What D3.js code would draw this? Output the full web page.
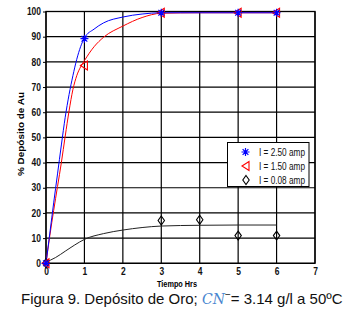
<!DOCTYPE html>
<html><head><meta charset="utf-8">
<script src="https://cdn.jsdelivr.net/npm/d3@7"></script>
<style>body{margin:0;background:#fff}svg{display:block}</style>
</head><body>
<svg id="c" width="357" height="326"></svg>
<script>
// ---- data ----
const xTicks = [0,1,2,3,4,5,6,7];
const yTicks = [0,10,20,30,40,50,60,70,80,90,100];
const seriesNames = ["I = 2.50 amp","I = 1.50 amp","I = 0.08 amp"];
const markerTimes = [0,1,3,5,6];
const blueMarks = [0,89.2,99.5,99.5,99.5];
const redMarks = [0,78.6,99.5,99.5,99.5];
const blackTimes = [0,3,4,5,6];
const blackMarks = [0,17,17.3,11,11];
const curveTimes = [0,0.1,0.2,0.3,0.4,0.5,0.6,0.7,0.8,0.9,1,1.25,1.5,2,2.5,3,4,5,6];
const blueCurve = [0,12,24,35.5,47,58,67,74.5,81,86,89.5,93,95.5,97.8,99,99.5,99.5,99.5,99.5];
const redCurve = [0,11,21,30.5,40,50.5,60.5,69,74.5,78,80.5,86,89.8,94.2,97.6,99.3,99.5,99.5,99.5];
const blackCurveTimes = [0,0.25,0.5,0.75,1,1.5,2,2.5,3,4,5,6];
const blackCurve = [0.5,2.3,4.8,7.3,9.5,11.8,13.2,14.2,14.8,15.1,15.2,15.2];
const xLabel = "Tiempo Hrs";
const yLabel = "% Depósito de Au";

// ---- layout ----
const svg = d3.select("#c");
const x = d3.scaleLinear().domain([0,7]).range([46,315]);
const y = d3.scaleLinear().domain([0,100]).range([263.3,11.5]);
const narrow = "'Liberation Sans Narrow','Arial Narrow','Liberation Sans',Arial,sans-serif";

// grid
const g = svg.append("g");
g.selectAll("line.v").data(xTicks).join("line")
  .attr("x1",d=>x(d)).attr("x2",d=>x(d)).attr("y1",y(0)).attr("y2",y(100))
  .attr("stroke","#000").attr("stroke-width",1.2);
g.selectAll("line.h").data(yTicks).join("line")
  .attr("x1",x(0)).attr("x2",x(7)).attr("y1",d=>y(d)).attr("y2",d=>y(d))
  .attr("stroke","#000").attr("stroke-width",1.2);
g.append("rect").attr("x",x(0)).attr("y",y(100)).attr("width",x(7)-x(0)).attr("height",y(0)-y(100))
  .attr("fill","none").attr("stroke","#000").attr("stroke-width",1.3);

// axes labels via d3 axes
const xa = svg.append("g").attr("transform",`translate(0,${y(0)})`)
  .call(d3.axisBottom(x).tickValues(xTicks).tickSize(0).tickPadding(5).tickFormat(d3.format("d")));
const ya = svg.append("g").attr("transform",`translate(${x(0)},0)`)
  .call(d3.axisLeft(y).tickValues(yTicks).tickSize(3).tickPadding(2).tickFormat(d3.format("d")));
[xa,ya].forEach(a=>{
  a.select(".domain").remove();
  a.selectAll("line").attr("stroke","#000");
  a.selectAll("text").attr("font-family",narrow).attr("font-size",10).attr("font-weight","bold").attr("fill","#111")
    .attr("textLength",function(){return this.textContent.length*4.7;}).attr("lengthAdjust","spacingAndGlyphs");
});
xa.selectAll("text").attr("dy","0.71em");

svg.append("text").attr("x",177).attr("y",286.5).attr("text-anchor","middle")
  .attr("font-family",narrow).attr("font-size",9).attr("font-weight","bold")
  .attr("textLength",40).attr("lengthAdjust","spacingAndGlyphs").text(xLabel);
svg.append("text").attr("transform","translate(24,134) rotate(-90)").attr("text-anchor","middle")
  .attr("font-family",narrow).attr("font-size",9.5).attr("font-weight","bold")
  .attr("textLength",84).attr("lengthAdjust","spacingAndGlyphs").text(yLabel);

// curves
const line = d3.line().x(d=>x(d[0])).y(d=>y(d[1])).curve(d3.curveMonotoneX);
const plot = svg.append("g");
plot.append("path").attr("d",line(blackCurveTimes.map((t,i)=>[t,blackCurve[i]])))
  .attr("fill","none").attr("stroke","#222").attr("stroke-width",1);
plot.append("path").attr("d",line(curveTimes.map((t,i)=>[t,redCurve[i]])))
  .attr("fill","none").attr("stroke","#ff0000").attr("stroke-width",1);
plot.append("path").attr("d",line(curveTimes.map((t,i)=>[t,blueCurve[i]])))
  .attr("fill","none").attr("stroke","#0000ff").attr("stroke-width",1);

// marker shapes
function star(sel,cx,cy){
  const r=4;
  const p=`M${cx-r},${cy}L${cx+r},${cy}M${cx},${cy-r}L${cx},${cy+r}M${cx-r*0.72},${cy-r*0.72}L${cx+r*0.72},${cy+r*0.72}M${cx-r*0.72},${cy+r*0.72}L${cx+r*0.72},${cy-r*0.72}`;
  sel.append("path").attr("d",p).attr("stroke","#0000ff").attr("stroke-width",1.2).attr("fill","none");
}
function tri(sel,cx,cy){
  sel.append("path").attr("d",`M${cx-4},${cy}L${cx+3},${cy-4.5}L${cx+3},${cy+4.5}Z`)
    .attr("stroke","#ff0000").attr("stroke-width",1.1).attr("fill","none");
}
function dia(sel,cx,cy){
  sel.append("path").attr("d",`M${cx},${cy-4.5}L${cx+3.2},${cy}L${cx},${cy+4.5}L${cx-3.2},${cy}Z`)
    .attr("stroke","#000").attr("stroke-width",1.1).attr("fill","none");
}
blackTimes.forEach((t,i)=>dia(plot,x(t),y(blackMarks[i])));
markerTimes.forEach((t,i)=>tri(plot,x(t),y(redMarks[i])));
markerTimes.forEach((t,i)=>star(plot,x(t),y(blueMarks[i])));

// legend
const lg = svg.append("g");
lg.append("rect").attr("x",227.5).attr("y",142.5).attr("width",81.5).attr("height",44)
  .attr("fill","#fff").attr("stroke","#000").attr("stroke-width",1);
const rowsY = [152,166,180];
star(lg,245.5,rowsY[0]); tri(lg,246,rowsY[1]); dia(lg,246,rowsY[2]);
lg.selectAll("text").data(seriesNames).join("text")
  .attr("x",259).attr("y",(d,i)=>rowsY[i]+3.5)
  .attr("font-family",narrow).attr("font-size",10).attr("fill","#111")
  .attr("textLength",46).attr("lengthAdjust","spacingAndGlyphs").text(d=>d);

// caption
const cap = svg.append("text").attr("x",21).attr("y",304)
  .attr("font-family","'Liberation Sans',Arial,sans-serif").attr("font-size",15).attr("fill","#111");
cap.append("tspan").text("Figura 9. Depósito de Oro; ");
cap.append("tspan").attr("font-family","'DejaVu Serif','Liberation Serif',serif").attr("font-style","italic")
  .attr("fill","#4a86d0").attr("font-size",14).text("CN");
cap.append("tspan").attr("dy",-6).attr("font-size",10).text("−");
cap.append("tspan").attr("dy",6).text("= 3.14 g/l a 50ºC");
</script>
</body></html>
